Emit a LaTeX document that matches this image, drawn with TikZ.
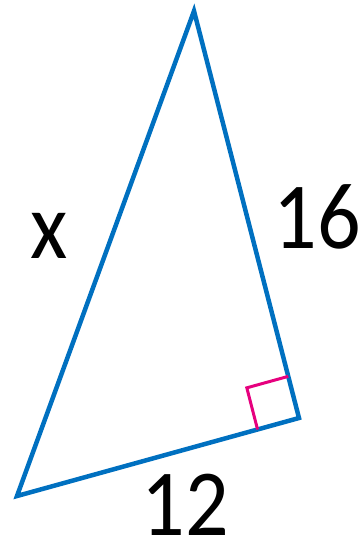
\documentclass[tikz,border=0pt]{standalone}
\usepackage{fontspec}
\setmainfont{Carlito}
\usetikzlibrary{calc}
\definecolor{triblue}{RGB}{0,112,192}
\definecolor{rapink}{RGB}{230,0,126}
\newcommand{\tallify}[1]{\scalebox{1}[1.1]{#1}}
\begin{document}
\begin{tikzpicture}[x=1pt,y=-1pt,
  side/.style={draw=triblue,line width=4.5pt,line join=miter},
  ramark/.style={draw=rapink,line width=3pt},
  lbl/.style={font=\fontsize{86}{86}\selectfont,inner sep=0pt,text=black,anchor=base}]
\useasboundingbox (0,0) rectangle (362,544);
\coordinate (A) at (194,11);
\coordinate (B) at (299,418);
\coordinate (C) at (17,496);
\draw[side] (A) -- (B) -- (C) -- cycle;
\coordinate (P) at ($(B)!43pt!(A)$);
\coordinate (Q) at ($(B)!43pt!(C)$);
\coordinate (R) at ($(P)+(Q)-(B)$);
\draw[ramark] (P) -- (R) -- (Q);
\node[lbl] (lx) at (49,258) {\tallify{x}};
\node[lbl] (l16) at (317.5,248) {\tallify{16}};
\node[lbl] (l12) at (185,535) {\tallify{12}};
\end{tikzpicture}
\end{document}
